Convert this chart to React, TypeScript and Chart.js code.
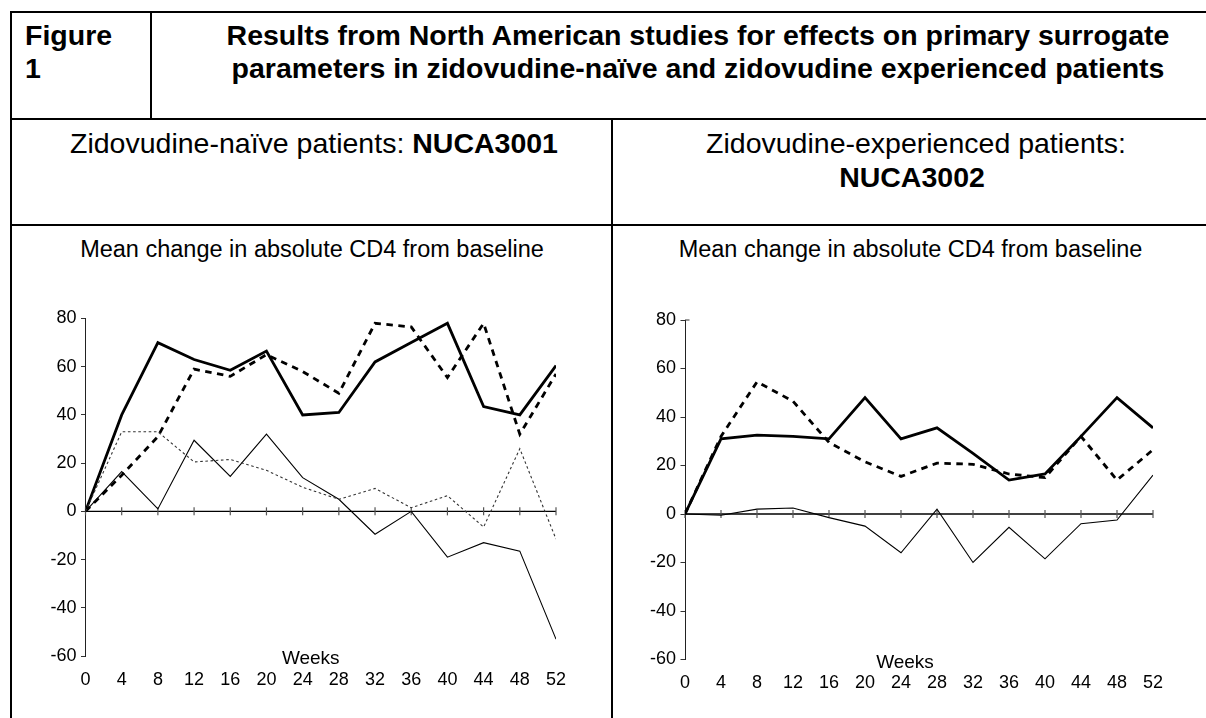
import React, { useEffect, useRef } from "react";
import { Chart, registerables } from "chart.js";

Chart.register(...registerables);

// ---------- data ----------
const weeks = [0, 4, 8, 12, 16, 20, 24, 28, 32, 36, 40, 44, 48, 52];
const yMin = -60;
const yMax = 80;
const yStep = 20;
const xStep = 4;
const xAxisTitle = "Weeks";

// Zidovudine-naïve (NUCA3001)
const naiveThickSolid = [0, 40, 70, 63, 58.5, 66.5, 40, 41, 62, 70, 78, 43.5, 40, 60.5];
const naiveThickDashed = [0, 15, 31, 59, 56, 65, 58, 49, 78, 76.5, 55.5, 78, 32, 57];
const naiveThinSolid = [0, 16.5, 1, 29.5, 14.5, 32, 14, 5, -9.5, 0, -19, -13, -16.5, -53];
const naiveThinDotted = [0, 33, 33, 20.5, 21.5, 17, 10, 5, 9.5, 1.5, 6.5, -6.5, 26, -11.5];

// Zidovudine-experienced (NUCA3002)
const expThickSolid = [0, 31, 32.5, 32, 31, 48, 31, 35.5, 25, 14, 16.5, 32, 48, 35.5];
const expThickDashed = [0, 32, 54.5, 46.5, 29.5, 21.5, 15.5, 21, 20.5, 16.5, 15, 32, 14, 26.5];
const expThinSolid = [0, -0.5, 2, 2.5, -1.5, -5, -16, 2, -20, -5.5, -18.5, -4, -2.5, 16];

// ---------- styling ----------
const FONT = '"Liberation Sans", Arial, Helvetica, sans-serif';

type Series = { values: number[]; width: number; dash: number[]; color: string };

const styleThickSolid = { width: 2.8, dash: [] as number[], color: "#000" };
const styleThickDashed = { width: 2.8, dash: [6.5, 5.5], color: "#000" };
const styleThinSolid = { width: 1.1, dash: [] as number[], color: "#000" };
const styleThinDotted = { width: 1.1, dash: [2.6, 2.6], color: "#333" };

const naiveSeries: Series[] = [
  { values: naiveThinDotted, ...styleThinDotted },
  { values: naiveThinSolid, ...styleThinSolid },
  { values: naiveThickDashed, ...styleThickDashed },
  { values: naiveThickSolid, ...styleThickSolid },
];
const expSeries: Series[] = [
  { values: expThinSolid, ...styleThinSolid },
  { values: expThickDashed, ...styleThickDashed },
  { values: expThickSolid, ...styleThickSolid },
];

type Geo = { padL: number; padR: number; padT: number; padB: number; weeksDx: number; topCap: boolean };

function makeZeroPlugin(geo: Geo) {
  return {
    id: "zeroAxis",
    beforeDatasetsDraw(chart: any) {
      const { ctx, scales } = chart;
      const x = scales.x;
      const y = scales.y;
      const y0 = y.getPixelForValue(0);
      ctx.save();
      ctx.strokeStyle = "#000";
      ctx.lineWidth = 1.3;
      ctx.beginPath();
      ctx.moveTo(x.left, y0);
      ctx.lineTo(x.right, y0);
      ctx.stroke();
      ctx.strokeStyle = "#555";
      ctx.lineWidth = 1.2;
      x.ticks.forEach((t: any) => {
        const px = x.getPixelForValue(t.value);
        ctx.beginPath();
        ctx.moveTo(px, y0 - 4);
        ctx.lineTo(px, y0 + 4);
        ctx.stroke();
      });
      if (geo.topCap) {
        const yt = y.getPixelForValue(yMax);
        ctx.strokeStyle = "#333";
        ctx.lineWidth = 1;
        ctx.beginPath();
        ctx.moveTo(y.right, yt);
        ctx.lineTo(y.right + 4.5, yt);
        ctx.stroke();
      }
      ctx.restore();
    },
    afterDraw(chart: any) {
      const { ctx, chartArea } = chart;
      ctx.save();
      ctx.fillStyle = "#000";
      ctx.font = `19px ${FONT}`;
      ctx.textAlign = "center";
      ctx.textBaseline = "alphabetic";
      ctx.fillText(xAxisTitle, (chartArea.left + chartArea.right) / 2 + geo.weeksDx, chartArea.bottom + 8);
      ctx.restore();
    },
  };
}

function LineChart(props: { series: Series[]; geo: Geo; w: number; h: number }) {
  const ref = useRef<HTMLCanvasElement | null>(null);
  useEffect(() => {
    if (!ref.current) return;
    const { series, geo } = props;
    const chart = new Chart(ref.current, {
      type: "line",
      data: {
        datasets: series.map((s, i) => ({
          label: "s" + i,
          data: weeks.map((w, k) => ({ x: w, y: s.values[k] })),
          borderColor: s.color,
          borderWidth: s.width,
          borderDash: s.dash,
          borderCapStyle: "butt",
          borderJoinStyle: "miter",
          pointRadius: 0,
          pointHoverRadius: 0,
          fill: false,
          tension: 0,
        })),
      },
      options: {
        responsive: false,
        animation: false,
        devicePixelRatio: 1,
        layout: { padding: { left: geo.padL, right: geo.padR, top: geo.padT, bottom: geo.padB } },
        plugins: { legend: { display: false }, title: { display: false }, tooltip: { enabled: false } },
        scales: {
          x: {
            type: "linear",
            min: weeks[0],
            max: weeks[weeks.length - 1],
            afterFit: (s: any) => {
              s.height = 40;
            },
            border: { display: false },
            grid: { display: false, drawTicks: false },
            ticks: { stepSize: xStep, autoSkip: false, maxRotation: 0, padding: 13, color: "#000", font: { family: FONT, size: 18 } },
          },
          y: {
            type: "linear",
            min: yMin,
            max: yMax,
            afterFit: (s: any) => {
              s.width = 40;
            },
            border: { display: true, color: "#222", width: 1 },
            grid: { display: true, drawOnChartArea: false, drawTicks: true, tickLength: 4.5, color: "#333" },
            ticks: { stepSize: yStep, padding: 4.5, color: "#000", font: { family: FONT, size: 18 } },
          },
        },
      } as any,
      plugins: [makeZeroPlugin(geo)],
    } as any);
    return () => chart.destroy();
  }, []);
  return <canvas ref={ref} width={props.w} height={props.h} style={{ display: "block", width: props.w, height: props.h }} />;
}

function Txt(props: { left: number; width?: number; top: number; size: number; bold?: boolean; align?: "left" | "center"; children: any }) {
  return (
    <div
      style={{
        position: "absolute",
        left: props.left,
        width: props.width,
        top: props.top,
        fontSize: props.size,
        lineHeight: `${props.size}px`,
        fontWeight: props.bold ? "bold" : "normal",
        textAlign: props.align || "center",
        whiteSpace: "nowrap",
      }}
    >
      {props.children}
    </div>
  );
}

function Rule(props: { left: number; top: number; width: number; height: number }) {
  return <div style={{ position: "absolute", background: "#000", ...props }} />;
}

export default function App() {
  const chartTitle = "Mean change in absolute CD4 from baseline";
  const big = 28.5;
  return (
    <div
      style={{
        position: "fixed",
        left: 0,
        top: 0,
        width: 1206,
        height: 718,
        overflow: "hidden",
        background: "#fff",
        color: "#000",
        fontFamily: FONT,
      }}
    >
      {/* table rules */}
      <Rule left={10} top={11} width={1196} height={2} />
      <Rule left={10} top={11} width={2} height={707} />
      <Rule left={150} top={11} width={2} height={108} />
      <Rule left={10} top={118} width={1196} height={2} />
      <Rule left={611} top={118} width={2} height={600} />
      <Rule left={10} top={224} width={1196} height={2} />

      {/* row 1 */}
      <Txt left={25} top={21.1} size={big} bold align="left">Figure</Txt>
      <Txt left={25} top={54.1} size={big} bold align="left">1</Txt>
      <Txt left={152} width={1092} top={21.1} size={big} bold>
        Results from North American studies for effects on primary surrogate
      </Txt>
      <Txt left={152} width={1092} top={54.1} size={big} bold>
        parameters in zidovudine-naïve and zidovudine experienced patients
      </Txt>

      {/* row 2 */}
      <Txt left={12} width={604} top={129.1} size={big}>
        Zidovudine-naïve patients: <b>NUCA3001</b>
      </Txt>
      <Txt left={613} width={606} top={129.1} size={big}>
        Zidovudine-experienced patients:
      </Txt>
      <Txt left={613} width={598} top={163.1} size={big} bold>
        NUCA3002
      </Txt>

      {/* row 3: chart titles */}
      <Txt left={12} width={600} top={237.5} size={23.5}>{chartTitle}</Txt>
      <Txt left={613} width={595} top={237.5} size={23.5}>{chartTitle}</Txt>

      {/* charts */}
      <div style={{ position: "absolute", left: 13, top: 262, width: 597, height: 456 }}>
        <LineChart series={naiveSeries} w={597} h={456} geo={{ padL: 32.5, padR: 54, padT: 56.5, padB: 22, weeksDx: -10, topCap: false }} />
      </div>
      <div style={{ position: "absolute", left: 614, top: 262, width: 592, height: 456 }}>
        <LineChart series={expSeries} w={592} h={456} geo={{ padL: 31, padR: 53, padT: 58, padB: 18.5, weeksDx: -14, topCap: true }} />
      </div>
    </div>
  );
}
